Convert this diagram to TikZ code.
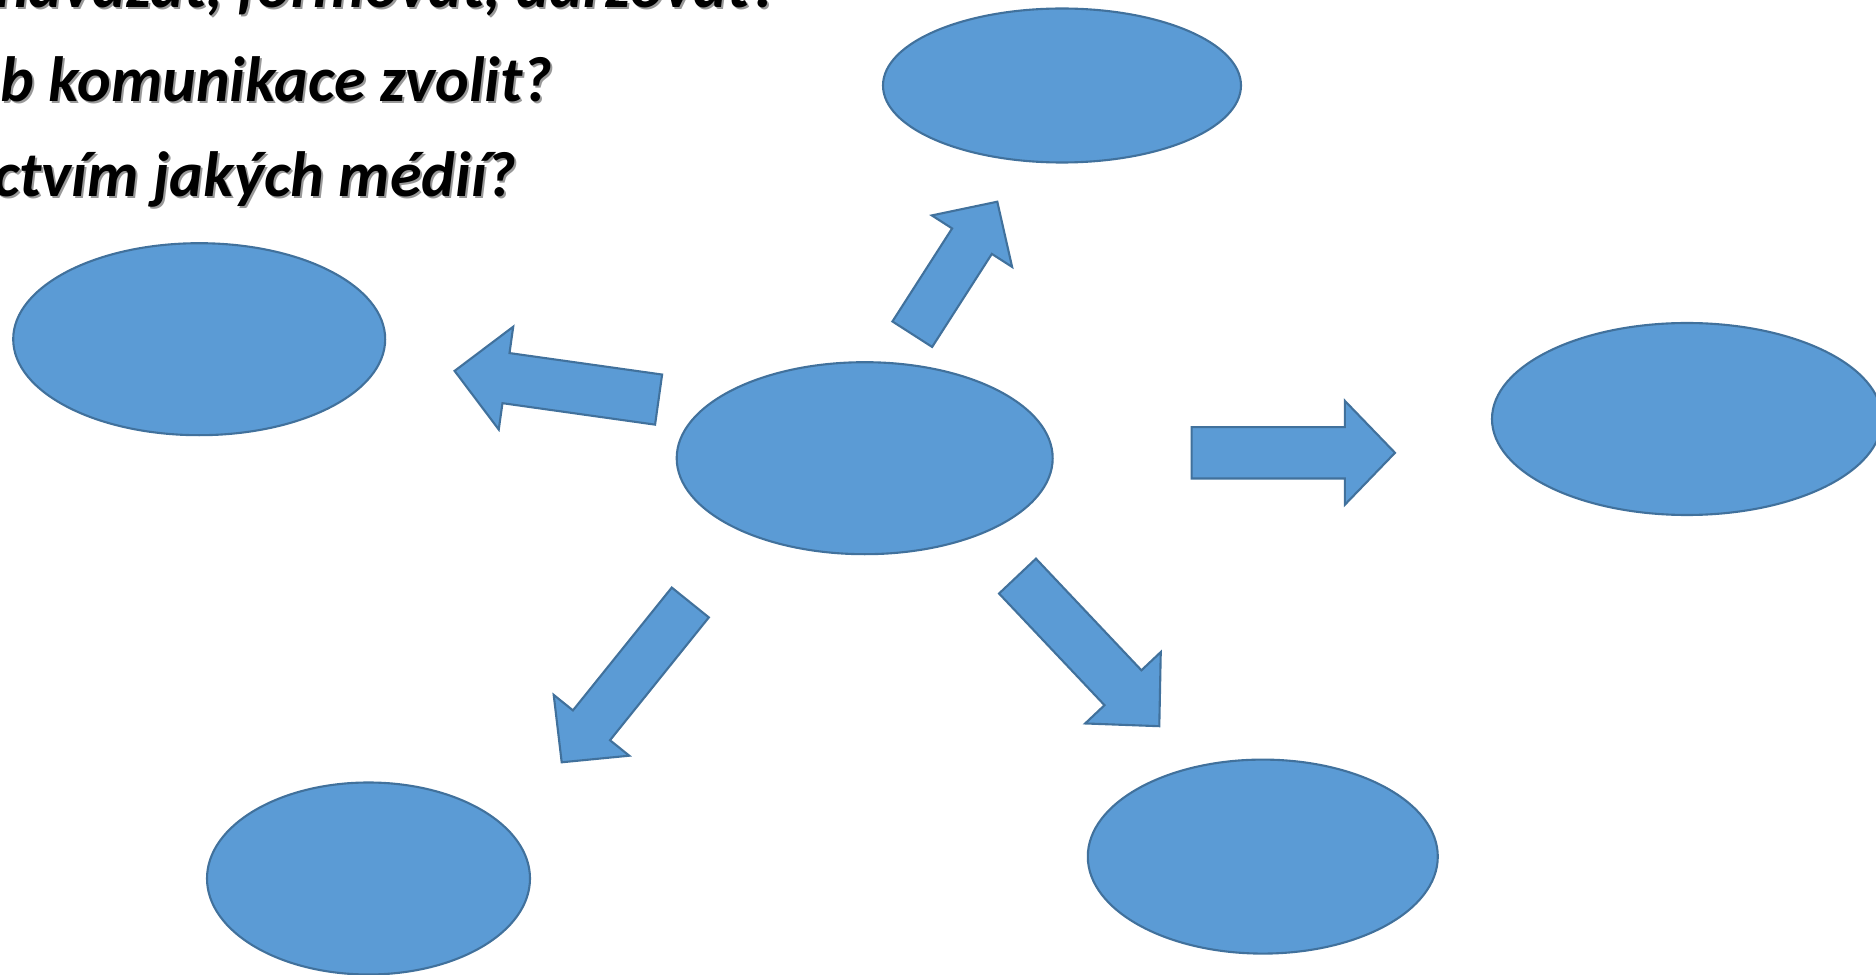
\documentclass[tikz,border=0pt]{standalone}
\usepackage{fontspec}
\setmainfont{Carlito}
\usetikzlibrary{shapes.geometric,calc}
\definecolor{blobfill}{HTML}{5B9BD5}
\definecolor{blobline}{HTML}{41719C}
\newcommand{\blockarrow}[6]{%
  \coordinate (#1-neck) at ($(#3)!#6!(#2)$);
  \draw[arrowbody] ($(#2)!#4!90:(#3)$) -- ($(#1-neck)!#4!90:(#3)$) -- ($(#1-neck)!#5!90:(#3)$) -- (#3)
    -- ($(#1-neck)!#5!-90:(#3)$) -- ($(#1-neck)!#4!-90:(#3)$) -- ($(#2)!#4!-90:(#3)$) -- cycle;
}
\begin{document}
\begin{tikzpicture}[x=0.1mm,y=-0.1mm,
	blob/.style={ellipse,draw=blobline,fill=blobfill,line width=0.6pt,inner sep=0pt},
	arrowbody/.style={draw=blobline,fill=blobfill,line width=0.6pt,line join=miter},
	question/.style={anchor=base east,inner sep=0pt,font=\fontsize{18.2}{22}\selectfont\bfseries\itshape},
	shade/.style={question,text=black!40}]
	\useasboundingbox (0,0) rectangle (1876,975);
	\clip (0,0) rectangle (1876,975);
	\node [shade] at (782,10) {navázat, formovat, udržovat?};
	\node [question] (q1) at (780,8) {navázat, formovat, udržovat?};
	\node [shade] at (555,104) {b komunikace zvolit?};
	\node [question] (q2) at (553,102) {b komunikace zvolit?};
	\node [shade] at (519,199) {ctvím jakých médií?};
	\node [question] (q3) at (517,197) {ctvím jakých médií?};
	\node [blob,minimum width=37.6mm,minimum height=19.2mm] (c) at (864.7,458.2) {};
	\node [blob,minimum width=35.8mm,minimum height=15.4mm] (n) at (1062,85.5) {};
	\node [blob,minimum width=37.2mm,minimum height=19.2mm] (w) at (199.2,339.2) {};
	\node [blob,minimum width=39mm,minimum height=19.2mm] (e) at (1687,419) {};
	\node [blob,minimum width=32.3mm,minimum height=19.2mm] (sw) at (368.5,878.5) {};
	\node [blob,minimum width=35mm,minimum height=19.4mm] (se) at (1262.8,856.6) {};
	\coordinate (w-tail) at (658.6,399.6);
	\coordinate (w-tip) at (454.6,370.9);
	\coordinate (n-tail) at (912.3,334.2);
	\coordinate (n-tip) at (997.3,201.7);
	\coordinate (e-tail) at (1191.6,452.8);
	\coordinate (e-tip) at (1395,452.8);
	\coordinate (sw-tail) at (690.3,602.5);
	\coordinate (sw-tip) at (561.7,762.3);
	\coordinate (se-tail) at (1017.5,576.1);
	\coordinate (se-tip) at (1159.3,726.2);
	\blockarrow{w}{w-tail}{w-tip}{2.53mm}{5.19mm}{5.19mm}
	\blockarrow{n}{n-tail}{n-tip}{2.36mm}{4.77mm}{4.69mm}
	\blockarrow{e}{e-tail}{e-tip}{2.57mm}{5.2mm}{5.02mm}
	\blockarrow{sw}{sw-tail}{sw-tip}{2.38mm}{4.85mm}{4.75mm}
	\blockarrow{se}{se-tail}{se-tip}{2.54mm}{5.2mm}{5.29mm}
\end{tikzpicture}
\end{document}
